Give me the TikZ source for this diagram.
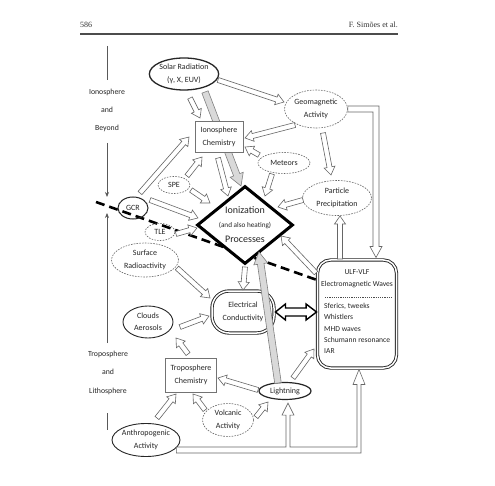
\documentclass[tikz,border=0pt]{standalone}
\usepackage{fontspec}
\setmainfont{Carlito}
\newfontfamily\hdrfont{Liberation Serif}
\usetikzlibrary{shapes.geometric,calc,arrows.meta}
\pgfdeclarelayer{bg}
\pgfsetlayers{bg,main}
% hollow block arrow: #1 style, #2 shaft half width, #3 head half width, #4 head length, #5 from, #6 to
\newcommand\arrowpoly[6]{%
  \draw[#1] let \p1=(#5), \p2=(#6), \n1={atan2(\y2-\y1,\x2-\x1)}, \n2={veclen(\x2-\x1,\y2-\y1)} in
  ($(\p1)+(\n1-90:#2)$) -- ($(\p1)+(\n1:\n2-#4)+(\n1-90:#2)$) -- ($(\p1)+(\n1:\n2-#4)+(\n1-90:#3)$) -- (\p2)
  -- ($(\p1)+(\n1:\n2-#4)+(\n1+90:#3)$) -- ($(\p1)+(\n1:\n2-#4)+(\n1+90:#2)$) -- ($(\p1)+(\n1+90:#2)$) -- cycle;}
\newcommand\harrow[2]{\arrowpoly{harr}{2.5pt}{5.5pt}{8pt}{#1}{#2}}
\newcommand\garrow[2]{\arrowpoly{garr}{3.3pt}{7pt}{12pt}{#1}{#2}}
\begin{document}
\begin{tikzpicture}[x=1pt,y=-1pt,
  lbl/.style={font=\fontsize{8}{12.5}\selectfont, text=black!85, align=center, inner sep=0pt},
  ell/.style={ellipse, draw=black!85, line width=0.9pt, fill=white, lbl},
  dell/.style={ellipse, draw=black!60, line width=0.6pt, dash pattern=on 1.6pt off 1.2pt, fill=white, lbl},
  rbox/.style={rectangle, draw=black!55, line width=0.8pt, fill=white, lbl},
  dbl/.style={draw=black!85, line width=0.9pt, double=white, double distance=1.5pt, fill=white, lbl},
  harr/.style={draw=black!60, fill=white, line width=0.6pt, line join=miter},
  garr/.style={draw=black!50, fill=black!15, line width=0.6pt, line join=miter},
  barr/.style={draw=black, fill=white, line width=1.4pt, line join=miter},
  dline/.style={line width=2.6pt, dash pattern=on 9pt off 5pt, black},
  vline/.style={draw=black!65, line width=0.8pt},
  side/.style={font=\fontsize{7.8}{9}\selectfont, text=black!85, inner sep=0pt},
  hdr/.style={font=\hdrfont\fontsize{8}{9}\selectfont, text=black!80, inner sep=0pt}]
\useasboundingbox (0,0) rectangle (495,486);
\begin{pgfonlayer}{bg}
\fill[white] (0,0) rectangle (495,486);
\end{pgfonlayer}

% header
\node[hdr, anchor=west] (pg) at (80,25) {586};
\node[hdr, anchor=east] (au) at (398,25) {F. Simões et al.};
\coordinate (r1) at (80,34); \coordinate (r2) at (398,34);
\draw[black!70, line width=1.2pt] (r1) -- (r2);

% side labels
\node[side] (s1) at (107,92) {Ionosphere};
\node[side] (s2) at (107,110) {and};
\node[side] (s3) at (107,128) {Beyond};
\node[side] (t1) at (108,354) {Troposphere};
\node[side] (t2) at (108,372) {and};
\node[side] (t3) at (108,391) {Lithosphere};
\coordinate (v1) at (107,46); \coordinate (v2) at (107,80);
\coordinate (v3) at (107,143); \coordinate (v4) at (107,197);
\coordinate (v5) at (107,343); \coordinate (v6) at (107,213);
\coordinate (v7) at (107,413); \coordinate (v8) at (107,430);
\draw[vline] (v1) -- (v2);
\draw[vline, -{Stealth[length=5pt,width=4pt]}] (v3) -- (v4);
\draw[vline, -{Stealth[length=5pt,width=4pt]}] (v5) -- (v6);
\draw[vline] (v7) -- (v8);

% nodes
\node[ell, line width=1.3pt, minimum width=65pt, minimum height=32pt] (solar) at (184,74) {Solar Radiation\\(γ, X, EUV)};
\node[rbox, minimum width=48pt, minimum height=31pt] (ionochem) at (219,137) {Ionosphere\\Chemistry};
\node[dell, minimum width=63pt, minimum height=38pt] (geo) at (316,109) {Geomagnetic\\Activity};
\node[dell, minimum width=52pt, minimum height=21pt] (meteors) at (284,163) {Meteors};
\node[dell, minimum width=69pt, minimum height=35pt] (pp) at (337,198) {Particle\\Precipitation};
\node[dell, minimum width=32pt, minimum height=17pt] (spe) at (174,185) {SPE};
\node[ell, fill=none, line width=1pt, minimum width=30pt, minimum height=22pt] (gcr) at (133,208) {GCR};
\node[dell, fill=none, minimum width=30pt, minimum height=17pt] (tle) at (160,232) {TLE};
\node[dell, minimum width=67pt, minimum height=34pt] (srad) at (145,260) {Surface\\Radioactivity};
\node[ell, minimum width=50pt, minimum height=32pt] (clouds) at (148,322) {Clouds\\Aerosols};
\node[rbox, minimum width=51pt, minimum height=34pt] (tropchem) at (191,375) {Troposphere\\Chemistry};
\node[dell, minimum width=51pt, minimum height=33pt] (volc) at (228,420) {Volcanic\\Activity};
\node[ell, minimum width=67pt, minimum height=33pt] (anthro) at (146,440) {Anthropogenic\\Activity};
\node[ell, line width=1.2pt, minimum width=52pt, minimum height=17pt] (light) at (285,391) {Lightning};
\node[dbl, rectangle, rounded corners=17pt, minimum width=62pt, minimum height=42pt] (ec) at (243,312) {Electrical\\Conductivity};
\node[dbl, rectangle, rounded corners=13pt, minimum width=79pt, minimum height=108pt] (ulf) at (357,314) {};
\node[lbl, font=\fontsize{7.6}{9}\selectfont] (u1) at ($(ulf)+(0,-42)$) {ULF-VLF};
\node[lbl, font=\fontsize{7.6}{9}\selectfont] (u2) at ($(ulf)+(0,-29)$) {Electromagnetic Waves};
\draw[black!70, line width=0.6pt, dash pattern=on 1.2pt off 1pt] ($(ulf)+(-32,-17)$) -- ($(ulf)+(35,-17)$);
\node[lbl, align=left, anchor=north west, font=\fontsize{7.6}{11.3}\selectfont] (u3) at ($(ulf)+(-33,-11)$)
  {Sferics, tweeks\\Whistlers\\MHD waves\\Schumann resonance\\IAR};

% dashed boundary line
\coordinate (d1) at (96,202);
\coordinate (d2) at ($(ulf)+(-40,-34)$);
\begin{pgfonlayer}{bg}
\draw[dline] (d1) -- (d2);
\end{pgfonlayer}

% ionization diamond
\node[diamond, draw=black, line width=3pt, fill=white, minimum width=96pt, minimum height=78pt, inner sep=0pt, aspect=1.23] (ion) at (245,225) {};
\node[lbl, font=\fontsize{10}{11}\selectfont] (i1) at (245,210) {Ionization};
\node[lbl, font=\fontsize{7.2}{8}\selectfont] (i2) at (245,225) {(and also heating)};
\node[lbl, font=\fontsize{10}{11}\selectfont] (i3) at (245,239) {Processes};

% gray arrows
\begin{pgfonlayer}{bg}
\garrow{$(solar)+(21,18)$}{$(ion)+(-4,-39)$}
\end{pgfonlayer}
\garrow{$(light)+(-7,-8)$}{$(ion)+(14,27)$}

% hollow arrows
\harrow{$(solar)+(6,24)$}{$(ionochem)+(-19,-19)$}
\harrow{$(solar)+(34,6)$}{$(geo)+(-32,-7)$}
\harrow{$(geo)+(-21,16)$}{$(ionochem)+(26,1)$}
\harrow{$(meteors)+(-25,-8)$}{$(ionochem)+(26,10)$}
\harrow{$(meteors)+(-12,11)$}{$(ion)+(20,-29)$}
\harrow{$(geo)+(7,24)$}{$(pp)+(-6,-23)$}
\harrow{$(pp)+(-34,2)$}{$(ion)+(33,-18)$}
\harrow{$(ulf)+(-17,-55)$}{$(pp)+(3,18)$}
\harrow{$(ulf)+(-41,-41)$}{$(ion)+(36,11)$}
\harrow{$(ion)+(0,42)$}{$(ec)+(0,-22)$}
\harrow{$(light)+(8,-13)$}{$(ulf)+(-43,35)$}
\harrow{$(light)+(-27,-1)$}{$(tropchem)+(27,3)$}
\harrow{$(volc)+(28,-3)$}{$(light)+(-17,11)$}
\harrow{$(volc)+(-23,-10)$}{$(tropchem)+(2,19)$}
\harrow{$(anthro)+(11,-22)$}{$(tropchem)+(-15,19)$}
\harrow{$(tropchem)+(-3,-21)$}{$(clouds)+(28,16)$}
\harrow{$(clouds)+(32,5)$}{$(ec)+(-34,4)$}
\harrow{$(srad)+(32,8)$}{$(ec)+(-33,-14)$}
\harrow{$(tle)+(16,2)$}{$(ion)+(-48,3)$}
\harrow{$(gcr)+(17,-8)$}{$(ion)+(-47,-7)$}
\harrow{$(gcr)+(7,-15)$}{$(ionochem)+(-30,0)$}
\harrow{$(spe)+(13,-9)$}{$(ionochem)+(-17,20)$}
\harrow{$(spe)+(17,5)$}{$(ion)+(-35,-22)$}
\harrow{$(ionochem)+(-1,21)$}{$(ion)+(-17,-29)$}

% elbow: geomagnetic -> ULF-VLF
\coordinate (gs) at (geo.east);
\coordinate (gt) at ($(ulf.north)+(19,-2)$);
\draw[harr] ($(gs)+(0,-3)$) -- ($(gt |- gs)+(3,-3)$) -- ($(gt)+(3,-11)$) -- ($(gt)+(6,-11)$) -- (gt)
  -- ($(gt)+(-6,-11)$) -- ($(gt)+(-3,-11)$) -- ($(gt |- gs)+(-3,3)$) -- ($(gs)+(0,3)$) -- cycle;

% bottom: anthropogenic -> lightning, ULF-VLF
\coordinate (as) at ($(anthro.east)+(-4,10)$);
\coordinate (lt) at ($(light.south)+(3,3)$);
\coordinate (ut) at ($(ulf.south)+(2,1)$);
\draw[harr] ($(as)+(0,-3)$) -- ($(lt |- as)+(-2,-3)$) -- ($(lt)+(-2,12)$) -- ($(lt)+(-6,12)$) -- (lt)
  -- ($(lt)+(6,12)$) -- ($(lt)+(2,12)$) -- ($(lt |- as)+(2,-3)$) -- ($(ut |- as)+(-2,-3)$)
  -- ($(ut)+(-2,15)$) -- ($(ut)+(-6,15)$) -- (ut) -- ($(ut)+(6,15)$) -- ($(ut)+(2,15)$)
  -- ($(ut |- as)+(2,3)$) -- ($(as)+(0,3)$) -- cycle;

% black double arrow EC <-> ULF
\draw[barr] let \p1=(ec.east), \p2=(ulf.west) in
  (\x1+1pt,\y1) -- (\x1+11pt,\y1+8pt) -- (\x1+11pt,\y1+4pt) -- (\x2-11pt,\y1+4pt) -- (\x2-11pt,\y1+8pt)
  -- (\x2-0.5pt,\y1) -- (\x2-11pt,\y1-8pt) -- (\x2-11pt,\y1-4pt) -- (\x1+11pt,\y1-4pt) -- (\x1+11pt,\y1-8pt) -- cycle;
\end{tikzpicture}
\end{document}
